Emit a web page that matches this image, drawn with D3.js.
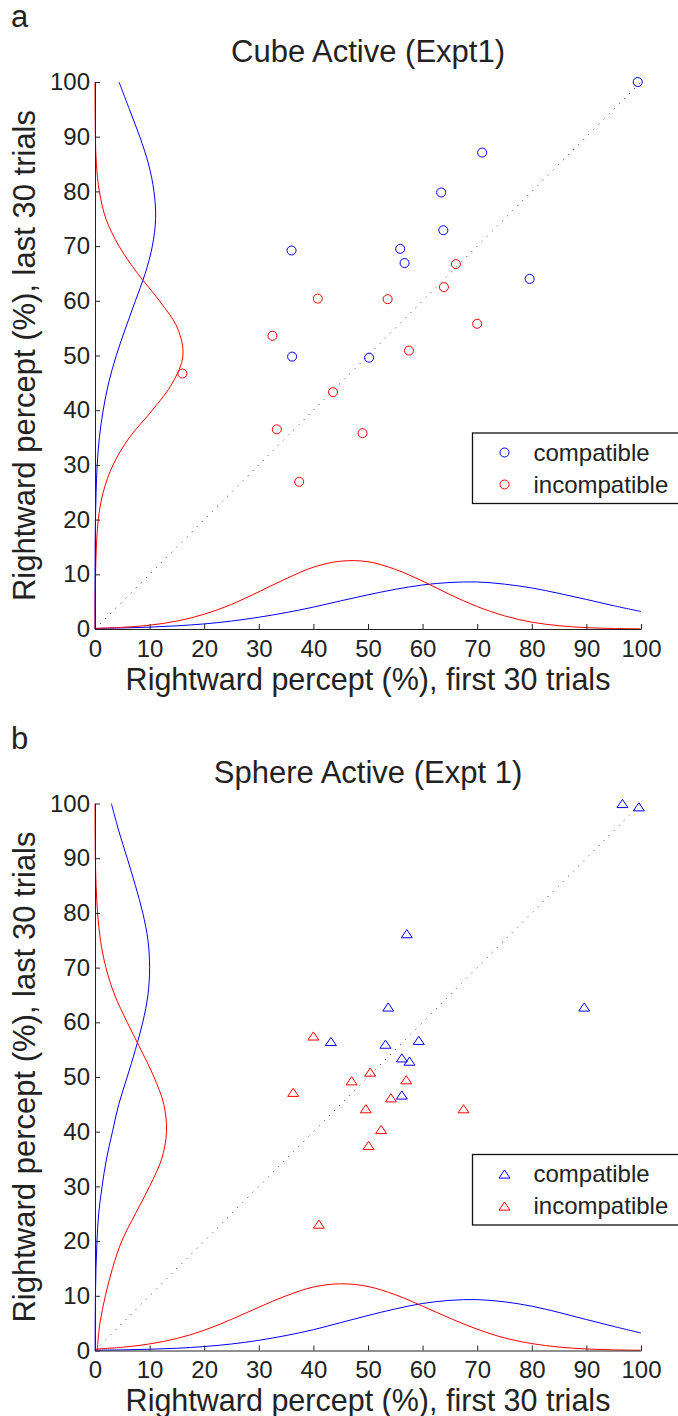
<!DOCTYPE html>
<html>
<head>
<meta charset="utf-8">
<script src="https://cdn.jsdelivr.net/npm/d3@7"></script>
<style>
  html, body { margin: 0; padding: 0; background: #fff; }
  svg { display: block; }
  text { font-family: "Liberation Sans", Arial, Helvetica, sans-serif; fill: #222; }
</style>
</head>
<body>
<svg id="chart" width="678" height="1416"></svg>
<script>
// ---------- data ----------
const axisTicks = [0, 10, 20, 30, 40, 50, 60, 70, 80, 90, 100];
const densityGrid = [0, 5, 10, 15, 20, 25, 30, 35, 40, 45, 50, 55, 60, 65, 70, 75, 80, 85, 90, 95, 100];
const seriesNames = ["compatible", "incompatible"];
const panelLetters = ["a", "b"];
const panelTitles = ["Cube Active (Expt1)", "Sphere Active (Expt 1)"];
const xLabel = "Rightward percept (%), first 30 trials";
const yLabel = "Rightward percept (%), last 30 trials";

// Panel a: Cube (circles)
const cubeCompX = [99.4, 70.9, 63.4, 63.8, 55.9, 56.7, 79.6, 36.0, 36.1, 50.2];
const cubeCompY = [100, 87.1, 79.8, 72.9, 69.5, 66.9, 64.0, 69.2, 49.8, 49.6];
const cubeIncX = [66.1, 63.9, 53.6, 70.0, 40.8, 32.5, 16.0, 43.6, 33.3, 37.4, 57.5, 49.0];
const cubeIncY = [66.7, 62.5, 60.3, 55.8, 60.4, 53.6, 46.7, 43.3, 36.5, 26.9, 50.9, 35.8];
// marginal densities (axis units), read on densityGrid
const cubeCompBottom = [0.10, 0.19, 0.34, 0.58, 0.93, 1.45, 2.15, 3.0, 4.0, 5.15, 6.25, 7.25, 8.05, 8.5, 8.6, 8.2, 7.5, 6.5, 5.4, 4.25, 3.2];
const cubeIncBottom = [0.12, 0.3, 0.7, 1.44, 2.7, 4.5, 6.8, 9.2, 11.3, 12.4, 12.3, 10.9, 8.75, 6.3, 4.1, 2.4, 1.25, 0.6, 0.25, 0.1, 0.03];
const cubeCompLeft = [0.0, 0.0, 0.01, 0.03, 0.08, 0.2, 0.4, 0.8, 1.5, 2.5, 3.9, 5.6, 7.4, 9.2, 10.5, 11.1, 10.8, 9.8, 8.2, 6.3, 4.4];
const cubeIncLeft = [0.01, 0.03, 0.1, 0.25, 0.6, 1.5, 3.3, 6.3, 10.5, 14.2, 16.1, 15.1, 11.8, 7.8, 4.4, 2.0, 0.8, 0.25, 0.07, 0.02, 0.0];

// Panel b: Sphere (triangles)
const sphCompX = [96.6, 99.6, 57.1, 43.2, 53.7, 89.6, 53.2, 59.3, 56.2, 57.6, 56.2];
const sphCompY = [100, 99.4, 76.2, 56.5, 62.8, 62.8, 56.0, 56.7, 53.5, 52.9, 46.7];
const sphIncX = [40.0, 36.3, 41.0, 50.4, 47.0, 57.0, 54.2, 49.6, 67.5, 52.4, 50.1];
const sphIncY = [57.5, 47.2, 23.1, 50.9, 49.3, 49.5, 46.2, 44.2, 44.2, 40.4, 37.5];
const sphCompBottom = [0.06, 0.12, 0.23, 0.41, 0.72, 1.19, 1.86, 2.74, 3.8, 5.1, 6.4, 7.6, 8.6, 9.17, 9.3, 8.9, 8.1, 6.95, 5.66, 4.4, 3.2];
const sphIncBottom = [0.27, 0.59, 1.2, 2.2, 3.7, 5.7, 7.9, 10.0, 11.6, 12.2, 11.7, 10.2, 8.1, 5.9, 3.9, 2.3, 1.26, 0.63, 0.28, 0.12, 0.04];
const sphCompLeft = [0.02, 0.04, 0.08, 0.18, 0.36, 0.67, 1.3, 2.1, 3.2, 4.35, 5.9, 7.4, 8.75, 9.7, 10.0, 9.7, 8.75, 7.4, 5.9, 4.35, 3.0];
const sphIncLeft = [0.4, 0.9, 1.9, 3.2, 4.9, 7.4, 10.0, 12.2, 13.1, 12.6, 10.8, 8.4, 5.9, 3.6, 2.0, 1.0, 0.47, 0.2, 0.07, 0.02, 0.0];

// ---------- drawing ----------
const BLUE = "#0000ff", RED = "#ff0000", INK = "#222";
const svg = d3.select("#chart");

// triangle centred on its bounding box (MATLAB '^')
const triangleSym = {
  draw(ctx, size) {
    const w = Math.sqrt(size * 4 / Math.sqrt(3));
    const h = w * Math.sqrt(3) / 2 * 0.86;
    ctx.moveTo(0, -h / 2);
    ctx.lineTo(w / 2, h / 2);
    ctx.lineTo(-w / 2, h / 2);
    ctx.closePath();
  }
};
const circleSym = d3.symbolCircle;

function drawPanel(p) {
  const top = p.top, plotH = 547;
  const x = d3.scaleLinear().domain([0, 100]).range([95, 641]);
  const y = d3.scaleLinear().domain([0, 100]).range([top + plotH, top]);
  const g = svg.append("g");

  // panel letter and title
  g.append("text").attr("x", 11).attr("y", top - 55)
    .style("font-size", "31px").text(p.letter);
  g.append("text").attr("x", (x(0) + x(100)) / 2).attr("y", top - 20.5)
    .attr("text-anchor", "middle").style("font-size", "31px").text(p.title);

  // diagonal
  g.append("line")
    .attr("x1", x(0)).attr("y1", y(0)).attr("x2", x(100)).attr("y2", y(100))
    .attr("stroke", "#555").attr("stroke-width", 1)
    .attr("stroke-dasharray", "1.2,6");

  // marginal curves
  const bottomLine = d3.line().x((d, i) => x(densityGrid[i])).y(d => y(d)).curve(d3.curveCatmullRom.alpha(0.5));
  const leftLine = d3.line().x(d => x(d)).y((d, i) => y(densityGrid[i])).curve(d3.curveCatmullRom.alpha(0.5));
  [[p.compBottom, BLUE], [p.incBottom, RED]].forEach(([arr, c]) => {
    g.append("path").attr("d", bottomLine(arr)).attr("fill", "none").attr("stroke", c).attr("stroke-width", 1);
  });
  [[p.compLeft, BLUE], [p.incLeft, RED]].forEach(([arr, c]) => {
    g.append("path").attr("d", leftLine(arr)).attr("fill", "none").attr("stroke", c).attr("stroke-width", 1);
  });

  // points
  const sym = d3.symbol().type(p.shape).size(p.size);
  [[p.compX, p.compY, BLUE], [p.incX, p.incY, RED]].forEach(([xs, ys, c]) => {
    g.append("g").selectAll("path").data(xs).join("path")
      .attr("transform", (d, i) => `translate(${x(d)},${y(ys[i])})`)
      .attr("d", sym).attr("fill", "none").attr("stroke", c).attr("stroke-width", 1);
  });

  // axes
  const xAxis = d3.axisBottom(x).tickValues(axisTicks).tickSizeInner(-5).tickSizeOuter(0).tickPadding(10.5);
  const yAxis = d3.axisLeft(y).tickValues(axisTicks).tickSizeInner(-5).tickSizeOuter(0).tickPadding(5);
  const gx = g.append("g").attr("transform", `translate(0,${y(0)})`).call(xAxis);
  const gy = g.append("g").attr("transform", `translate(${x(0)},0)`).call(yAxis);
  [gx, gy].forEach(a => {
    a.selectAll("path.domain").attr("stroke", INK).attr("stroke-width", 1);
    a.selectAll(".tick line").attr("stroke", INK).attr("stroke-width", 1);
    a.selectAll(".tick text").style("font-size", "24px")
      .style("font-family", "'Liberation Sans', Arial, Helvetica, sans-serif").attr("fill", INK);
  });
  gx.selectAll(".tick text").attr("dy", "0.72em");

  // axis labels
  g.append("text").attr("x", (x(0) + x(100)) / 2).attr("y", y(0) + 60.5)
    .attr("text-anchor", "middle").style("font-size", "30.5px").text(xLabel);
  g.append("text")
    .attr("transform", `translate(35,${(y(0) + y(100)) / 2}) rotate(-90)`)
    .attr("text-anchor", "middle").style("font-size", "31px").text(yLabel);

  // legend
  const lg = g.append("g").attr("transform", `translate(472.5,${top + 351})`);
  lg.append("rect").attr("x", 0).attr("y", 0).attr("width", 215).attr("height", 70.5)
    .attr("fill", "#fff").attr("stroke", "#111").attr("stroke-width", 1.3);
  seriesNames.forEach((name, i) => {
    const cy = 19.5 + i * 32;
    lg.append("path").attr("transform", `translate(32,${cy})`)
      .attr("d", sym).attr("fill", "none").attr("stroke", i === 0 ? BLUE : RED).attr("stroke-width", 1);
    lg.append("text").attr("x", 61).attr("y", cy).attr("dy", "0.35em")
      .style("font-size", "24px").text(name);
  });
}

drawPanel({
  top: 82, letter: panelLetters[0], title: panelTitles[0], shape: circleSym, size: 64,
  compX: cubeCompX, compY: cubeCompY, incX: cubeIncX, incY: cubeIncY,
  compBottom: cubeCompBottom, incBottom: cubeIncBottom, compLeft: cubeCompLeft, incLeft: cubeIncLeft
});
drawPanel({
  top: 803.5, letter: panelLetters[1], title: panelTitles[1], shape: triangleSym, size: 52,
  compX: sphCompX, compY: sphCompY, incX: sphIncX, incY: sphIncY,
  compBottom: sphCompBottom, incBottom: sphIncBottom, compLeft: sphCompLeft, incLeft: sphIncLeft
});
</script>
</body>
</html>
